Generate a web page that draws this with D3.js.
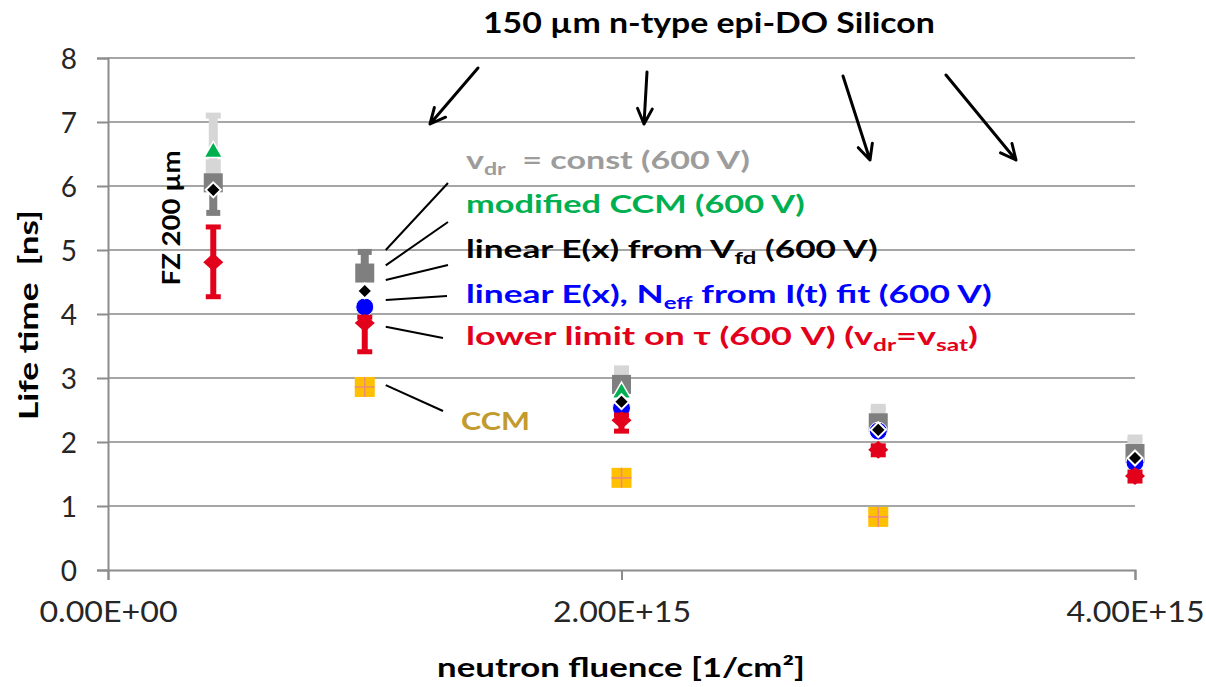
<!DOCTYPE html>
<html>
<head>
<meta charset="utf-8">
<script src="https://cdn.jsdelivr.net/npm/d3@7"></script>
<style>
  body { margin: 0; background: #fff; }
  svg { display: block; }
  text { font-family: Lato, "Open Sans", sans-serif; white-space: pre; }
</style>
</head>
<body>
<svg id="chart" width="1206" height="687"></svg>
<script>
// ---- data -------------------------------------------------------------
const fluence = [0.41e15, 1.0e15, 2.0e15, 3.0e15, 4.0e15];   // 1/cm^2
const yTicks = [0, 1, 2, 3, 4, 5, 6, 7, 8];
const xTicks = [0, 2e15, 4e15];

// v_dr = const (600 V): upper (light) estimate and its bar
const vdrConstUpper   = [6.30, null, 3.02, 2.42, 1.94];
const vdrConstUpperHi = [7.10, null, 3.15, 2.55, 2.07];
// v_dr = const (600 V): main (dark) estimate with bars
const vdrConst   = [6.05, 4.64, 2.90, 2.30, 1.82];
const vdrConstHi = [6.05, 4.97, 2.96, 2.36, 1.90];
const vdrConstLo = [5.58, 4.64, 2.60, 2.16, 1.62];
// modified CCM (600 V)
const modCCM = [6.56, null, 2.80, null, null];
// linear E(x) from V_fd (600 V)
const linVfd = [5.94, 4.36, 2.63, 2.19, 1.75];
// linear E(x), N_eff from I(t) fit (600 V)
const linNeff = [null, 4.11, 2.53, 2.17, 1.68];
// lower limit on tau (600 V), v_dr = v_sat
const lowerLimit   = [4.81, 3.86, 2.34, 1.88, 1.47];
const lowerLimitHi = [5.36, 3.95, 2.42, 1.94, 1.53];
const lowerLimitLo = [4.27, 3.41, 2.17, 1.80, 1.39];
// CCM
const ccm = [null, 2.86, 1.44, 0.83, null];

// ---- scales -----------------------------------------------------------
const svg = d3.select('#chart');
const x = d3.scaleLinear().domain([0, 4e15]).range([108, 1135]);
const y = d3.scaleLinear().domain([0, 8]).range([570, 58]);

const C = {
  grid: '#a6a6a6', axis: '#8c8c8c', tick: '#262626',
  light: '#d6d6d6', dark: '#7f7f7f', green: '#00b050', black: '#000000',
  blue: '#0000ff', red: '#e3001b', ccm: '#ffc000', ccmCross: '#ee8a78',
  grayLabel: '#9c9c9c', ccmLabel: '#c39a2e'
};

// scale a text element horizontally so it spans the requested width
function fitText(sel, tx, ty, width, rot) {
  const w = sel.node().getBBox().width;
  sel.attr('transform', `translate(${tx},${ty}) rotate(${rot || 0}) scale(${width / w},1)`);
}

// ---- grid & axes ------------------------------------------------------
svg.append('g').selectAll('line').data(yTicks.filter(d => d > 0)).join('line')
  .attr('x1', x(0)).attr('x2', x(4e15))
  .attr('y1', d => y(d)).attr('y2', d => y(d))
  .attr('stroke', C.grid).attr('stroke-width', 2);

const fmtE = d => {
  if (d === 0) return '0.00E+00';
  const e = Math.floor(Math.log10(d));
  return (d / Math.pow(10, e)).toFixed(2) + 'E+' + String(e).padStart(2, '0');
};

const yAxis = svg.append('g').attr('transform', `translate(${x(0)},0)`)
  .call(d3.axisLeft(y).tickValues(yTicks).tickSize(11).tickPadding(20).tickFormat(d3.format('d')));
const xAxis = svg.append('g').attr('transform', `translate(0,${y(0)})`)
  .call(d3.axisBottom(x).tickValues(xTicks).tickSize(10).tickPadding(20).tickFormat(fmtE));
[yAxis, xAxis].forEach(a => {
  a.select('.domain').attr('stroke', C.axis).attr('stroke-width', 2);
  a.selectAll('.tick line').attr('stroke', C.axis).attr('stroke-width', 2);
});
yAxis.selectAll('.tick text').attr('font-size', 28).attr('fill', C.tick)
  .attr('font-family', 'Lato').attr('dy', '0.36em');
xAxis.selectAll('.tick text').attr('font-size', 29).attr('fill', C.tick)
  .attr('font-family', 'Lato').attr('dy', '0.75em')
  .each(function () {
    const t = d3.select(this);
    const ty = +t.attr('y');
    t.attr('y', 0).attr('transform', `translate(0,${ty}) scale(1.11,1)`);
  });

// ---- marks ------------------------------------------------------------
const marks = svg.append('g');
const pts = arr => fluence.map((f, i) => ({ f, i, v: arr[i] })).filter(d => d.v != null);

function errorBars(lo, hi, color, stemW, capW, capH, withLo, withHi) {
  const g = marks.append('g');
  fluence.forEach((f, i) => {
    if (lo[i] == null || hi[i] == null) return;
    const cx = x(f);
    g.append('line').attr('x1', cx).attr('x2', cx).attr('y1', y(lo[i])).attr('y2', y(hi[i]))
      .attr('stroke', color).attr('stroke-width', stemW);
    const caps = [];
    if (withHi && hi[i] !== lo[i]) caps.push(hi[i]);
    if (withLo && hi[i] !== lo[i]) caps.push(lo[i]);
    caps.forEach(v => g.append('rect')
      .attr('x', cx - capW / 2).attr('y', y(v) - capH / 2)
      .attr('width', capW).attr('height', capH).attr('fill', color));
  });
}

function squares(arr, size, fill) {
  return marks.append('g').selectAll('rect').data(pts(arr)).join('rect')
    .attr('x', d => x(d.f) - size / 2).attr('y', d => y(d.v) - size / 2)
    .attr('width', size).attr('height', size).attr('fill', fill);
}

function diamonds(arr, hw, hh, fill, stroke, sw) {
  return marks.append('g').selectAll('path').data(pts(arr)).join('path')
    .attr('d', d => {
      const cx = x(d.f), cy = y(d.v);
      return `M${cx},${cy - hh}L${cx + hw},${cy}L${cx},${cy + hh}L${cx - hw},${cy}Z`;
    })
    .attr('fill', fill).attr('stroke', stroke || 'none').attr('stroke-width', sw || 0);
}

// v_dr = const, light
errorBars(vdrConstUpper, vdrConstUpperHi, C.light, 9, 15, 6, false, true);
squares(vdrConstUpper, 15, C.light);
// v_dr = const, dark
errorBars(vdrConstLo, vdrConstHi, C.dark, 8, 14, 6, true, true);
squares(vdrConst, 19, C.dark);
// modified CCM
marks.append('g').selectAll('path').data(pts(modCCM)).join('path')
  .attr('transform', d => `translate(${x(d.f)},${y(d.v) + 2})`)
  .attr('d', d3.symbol(d3.symbolTriangle, 150)())
  .attr('fill', C.green).attr('stroke', '#fff').attr('stroke-width', 1.5);
// linear E(x), N_eff from I(t)
marks.append('g').selectAll('circle').data(pts(linNeff)).join('circle')
  .attr('cx', d => x(d.f)).attr('cy', d => y(d.v)).attr('r', 9)
  .attr('fill', C.blue).attr('stroke', '#fff').attr('stroke-width', 1);
// linear E(x) from V_fd
diamonds(linVfd, 7.5, 7.5, C.black, '#fff', 2);
// lower limit on tau
errorBars(lowerLimitLo, lowerLimitHi, C.red, 6, 15, 5, true, true);
diamonds(lowerLimit, 10, 9, C.red);
// CCM
const ccmG = marks.append('g').selectAll('g').data(pts(ccm)).join('g')
  .attr('transform', d => `translate(${x(d.f)},${y(d.v)})`);
ccmG.append('rect').attr('x', -10).attr('y', -10).attr('width', 20).attr('height', 20).attr('fill', C.ccm);
ccmG.append('path').attr('d', 'M-10,0H10M0,-10V10').attr('stroke', C.ccmCross).attr('stroke-width', 1.6);

// ---- annotations ------------------------------------------------------
const labels = [
  { parts: [['v'], ['dr', 1], ['  = const (600 V)']], color: C.grayLabel, base: 169, w: 284, from: 5.00, to: [448, 183] },
  { parts: [['modified CCM (600 V)']], color: C.green, base: 213, w: 339, from: 4.76, to: [448, 222] },
  { parts: [['linear E(x) from V'], ['fd', 1], [' (600 V)']], color: C.black, base: 258, w: 412, from: 4.53, to: [448, 265] },
  { parts: [['linear E(x), N'], ['eff', 1], [' from I(t) fit (600 V)']], color: C.blue, base: 303, w: 526, from: 4.22, to: [447, 296] },
  { parts: [['lower limit on τ (600 V) (v'], ['dr', 1], ['=v'], ['sat', 1], [')']], color: C.red, base: 345, w: 512, from: 3.80, to: [443, 338] },
  { parts: [['CCM']], color: C.ccmLabel, base: 430, w: 69, from: 2.89, to: [443, 411], x: 461 }
];

const ann = svg.append('g');
labels.forEach(L => {
  ann.append('line')
    .attr('x1', x(1e15) + 21).attr('y1', y(L.from))
    .attr('x2', L.to[0]).attr('y2', L.to[1])
    .attr('stroke', '#000').attr('stroke-width', 2);
  const t = ann.append('text').attr('font-size', 25).attr('font-weight', 700).attr('fill', L.color);
  let shifted = false;
  L.parts.forEach(([s, sub]) => {
    const sp = t.append('tspan').text(s);
    if (sub) { sp.attr('font-size', 17).attr('dy', 6); shifted = true; }
    else if (shifted) { sp.attr('dy', -6); shifted = false; }
  });
  fitText(t, L.x || 466, L.base, L.w);
});

// title and arrows
const title = svg.append('text').attr('font-size', 29).attr('font-weight', 700).attr('fill', '#000')
  .text('150 µm n-type epi-DO Silicon');
fitText(title, 483, 33, 452);

const arrows = [[478, 68, 430, 124], [647, 72, 644, 124], [843, 76, 870, 160], [946, 75, 1016, 160]];
arrows.forEach(([x1, y1, x2, y2]) => {
  const a = Math.atan2(y2 - y1, x2 - x1), L = 17, sp = 0.45;
  const p1 = [x2 - L * Math.cos(a - sp), y2 - L * Math.sin(a - sp)];
  const p2 = [x2 - L * Math.cos(a + sp), y2 - L * Math.sin(a + sp)];
  svg.append('path')
    .attr('d', `M${x1},${y1}L${x2},${y2}M${p1}L${x2},${y2}L${p2}`)
    .attr('fill', 'none').attr('stroke', '#000').attr('stroke-width', 3)
    .attr('stroke-linecap', 'round').attr('stroke-linejoin', 'round');
});

// FZ label
const fz = svg.append('text').attr('font-size', 24).attr('font-weight', 700).attr('fill', '#000')
  .attr('text-anchor', 'middle').text('FZ 200 µm');
fitText(fz, 180, 218, 135, -90);

// axis titles
const yt = svg.append('text').attr('font-size', 26).attr('font-weight', 700).attr('fill', '#000')
  .attr('text-anchor', 'middle').text('Life time  [ns]');
fitText(yt, 38, 315, 210, -90);

const xt = svg.append('text').attr('font-size', 26).attr('font-weight', 700).attr('fill', '#000')
  .attr('text-anchor', 'middle').text('neutron fluence [1/cm²]');
fitText(xt, 621, 677, 368);
</script>
</body>
</html>
